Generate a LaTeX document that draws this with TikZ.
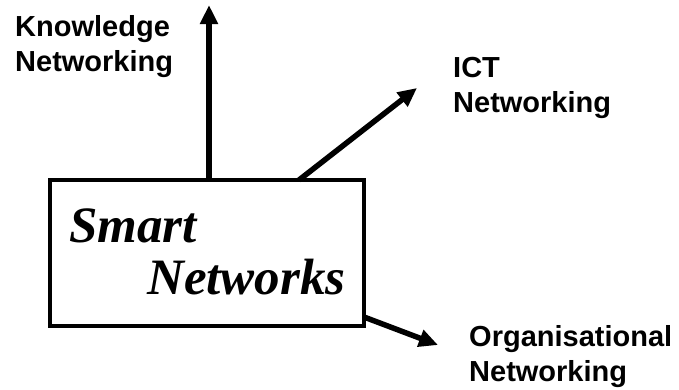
\documentclass[tikz,border=0pt]{standalone}
\usepackage{fontspec}
\setmainfont{Liberation Sans}
\newfontfamily\serifbi{Liberation Serif}
\usetikzlibrary{arrows.meta}
\tikzset{
  lbl/.style={anchor=north west, inner sep=0pt, align=left,
    font=\fontsize{29}{35}\selectfont\bfseries},
  boxst/.style={draw, line width=3.3pt, minimum width=314pt, minimum height=146pt, inner sep=0pt},
  arr/.style={line width=5.5pt, -{Triangle[length=19pt,width=17pt]}},
  title/.style={anchor=north west, inner sep=0pt, align=left,
    font=\serifbi\fontsize{51}{52}\selectfont\bfseries\itshape}
}
\begin{document}
\begin{tikzpicture}[x=1pt,y=-1pt]
\useasboundingbox (0,0) rectangle (679,389);
\node[boxst] (box) at (207,253) {};
\node[title] (txt) at (69,209) {Smart\\\hspace{78pt}Networks};
\node[lbl] (know) at (15,15) {Knowledge\\Networking};
\node[lbl] (ict) at (453,57) {ICT\\Networking};
\node[lbl] (org) at (469,325) {Organisational\\Networking};
\coordinate (ktip) at (209,5);
\coordinate (itip) at (417,88);
\coordinate (otip) at (438,345);
\coordinate (istart) at (299,180);
\coordinate (ostart) at (364,317);
\draw[arr] (box.north -| ktip) -- (ktip);
\draw[arr] (istart) -- (itip);
\draw[arr] (ostart) -- (otip);
\end{tikzpicture}
\end{document}
